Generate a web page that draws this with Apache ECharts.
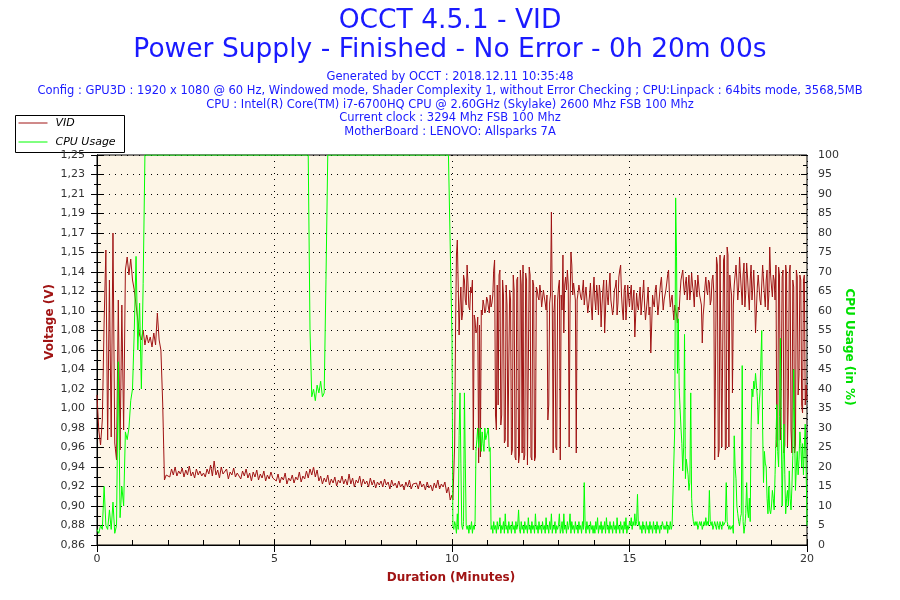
<!DOCTYPE html>
<html lang="en">

<head>
    <meta charset="UTF-8">
    <title>OCCT VID</title>
    <script src="https://cdn.jsdelivr.net/npm/echarts@6/dist/echarts.min.js"></script>
    <style>
        html, body { margin: 0; padding: 0; background: #fff; }
    </style>
</head>

<body>
    <div id="main" style="width: 900px;height:600px;"></div>
    <script>
        // first half (0 .. 10 min): one sample every 0.05 min, one row per minute
        const STEP_A = 0.05;
        // second half (10 .. 20 min): one sample every 0.025 min, one row per half minute
        const STEP_B = 0.025;
        const START_B = 10;

        // VID in volts
        const vidA = [
            1.010, 0.975, 0.960, 0.985, 1.082, 1.155, 0.965, 1.125, 0.968, 1.172, 0.962, 0.945, 1.105, 0.955, 1.100, 0.975, 1.135, 1.148, 1.130, 1.146,
            1.125, 1.115, 1.100, 1.085, 1.070, 1.065, 1.075, 1.060, 1.070, 1.062, 1.068, 1.058, 1.072, 1.060, 1.092, 1.065, 1.055, 1.002, 0.925, 0.930,
            0.932, 0.928, 0.936, 0.930, 0.938, 0.929, 0.934, 0.931, 0.937, 0.928, 0.935, 0.930, 0.939, 0.929, 0.933, 0.927, 0.936, 0.930, 0.934, 0.929,
            0.932, 0.928, 0.936, 0.931, 0.940, 0.929, 0.944, 0.930, 0.935, 0.927, 0.938, 0.931, 0.929, 0.936, 0.926, 0.933, 0.930, 0.937, 0.928, 0.932,
            0.931, 0.926, 0.934, 0.929, 0.936, 0.927, 0.932, 0.924, 0.933, 0.928, 0.935, 0.925, 0.931, 0.927, 0.934, 0.924, 0.930, 0.926, 0.933, 0.927,
            0.929, 0.924, 0.931, 0.922, 0.928, 0.925, 0.932, 0.921, 0.927, 0.924, 0.930, 0.922, 0.928, 0.925, 0.933, 0.923, 0.929, 0.926, 0.934, 0.927,
            0.936, 0.930, 0.938, 0.928, 0.935, 0.924, 0.929, 0.921, 0.927, 0.923, 0.930, 0.920, 0.926, 0.922, 0.928, 0.919, 0.925, 0.922, 0.929, 0.921,
            0.926, 0.920, 0.931, 0.921, 0.927, 0.918, 0.925, 0.922, 0.929, 0.919, 0.926, 0.921, 0.924, 0.918, 0.927, 0.920, 0.925, 0.917, 0.923, 0.920,
            0.924, 0.918, 0.926, 0.920, 0.923, 0.916, 0.925, 0.919, 0.922, 0.917, 0.924, 0.918, 0.921, 0.915, 0.923, 0.918, 0.925, 0.916, 0.921, 0.919,
            0.922, 0.916, 0.924, 0.918, 0.921, 0.915, 0.923, 0.917, 0.920, 0.914, 0.922, 0.917, 0.925, 0.916, 0.921, 0.918, 0.923, 0.912, 0.918, 0.905
        ];
        const vidB = [
            0.910, 0.905, 0.932, 0.960, 1.075, 1.150, 1.165, 1.120, 1.070, 1.100, 1.118, 1.085, 1.092, 1.130, 1.125, 1.105, 1.100, 1.140, 1.122, 1.098,
            1.095, 1.118, 1.112, 1.125, 0.955, 1.090, 1.085, 1.072, 1.075, 1.088, 0.942, 1.080, 0.948, 1.095, 1.090, 1.105, 1.100, 1.092, 1.095, 1.108,
            1.105, 1.098, 1.092, 1.110, 1.098, 1.102, 1.110, 1.135, 1.145, 0.990, 0.975, 1.120, 1.000, 1.130, 1.135, 0.980, 0.990, 1.125, 1.110, 0.962,
            0.965, 1.120, 1.100, 0.958, 1.040, 1.115, 1.105, 0.950, 0.955, 1.130, 1.115, 0.948, 0.945, 1.125, 1.128, 0.942, 0.950, 1.135, 1.120, 0.952,
            1.140, 0.945, 0.950, 1.132, 1.125, 0.940, 0.942, 1.138, 1.130, 0.948, 0.945, 1.125, 1.120, 0.944, 0.948, 1.118, 1.115, 1.108, 1.105, 1.120,
            1.112, 1.098, 1.100, 1.115, 1.108, 1.102, 1.095, 1.110, 0.985, 1.000, 1.102, 1.110, 1.193, 1.100, 0.952, 1.095, 1.110, 0.958, 0.955, 1.105,
            1.118, 1.125, 0.945, 1.110, 1.095, 1.150, 1.072, 1.120, 1.128, 1.115, 1.135, 1.120, 0.958, 1.100, 1.153, 1.140, 1.110, 1.122, 1.120, 1.105,
            0.952, 1.105, 1.112, 1.120, 1.120, 1.108, 1.105, 1.115, 1.125, 1.100, 1.110, 1.118, 1.118, 1.092, 1.100, 1.110, 1.122, 1.098, 1.085, 1.112,
            1.128, 1.105, 1.095, 1.120, 1.110, 1.090, 1.120, 1.112, 1.078, 1.100, 1.115, 1.125, 1.072, 1.095, 1.125, 1.108, 1.100, 1.118, 1.132, 1.105,
            1.105, 1.090, 1.098, 1.115, 1.118, 1.125, 1.090, 1.102, 1.128, 1.135, 1.140, 1.110, 1.095, 1.085, 1.115, 1.120, 1.085, 1.100, 1.120, 1.108,
            1.098, 1.112, 1.120, 1.095, 1.105, 1.115, 1.068, 1.090, 1.112, 1.100, 1.095, 1.108, 1.118, 1.090, 1.102, 1.112, 1.125, 1.100, 1.085, 1.095,
            1.105, 1.118, 1.090, 1.098, 1.052, 1.080, 1.110, 1.102, 1.098, 1.115, 1.120, 1.105, 1.090, 1.100, 1.112, 1.122, 1.128, 1.110, 1.095, 1.105,
            1.105, 1.115, 1.122, 1.130, 1.135, 1.110, 1.098, 1.105, 1.110, 1.095, 1.085, 1.100, 1.100, 1.090, 1.082, 1.098, 1.095, 1.112, 1.125, 1.130,
            1.135, 1.120, 1.110, 1.122, 1.128, 1.105, 1.118, 1.130, 1.105, 1.115, 1.132, 1.120, 1.112, 1.098, 1.125, 1.118, 1.108, 1.130, 1.120, 1.110,
            1.112, 1.100, 1.062, 1.090, 1.100, 1.118, 1.128, 1.115, 1.110, 1.125, 1.122, 1.100, 1.105, 1.125, 1.130, 1.112, 0.945, 0.943, 1.148, 1.140,
            0.948, 0.955, 1.150, 1.148, 0.958, 0.960, 1.145, 1.150, 0.955, 0.958, 1.158, 1.150, 0.958, 1.130, 1.118, 1.110, 1.012, 1.100, 1.120, 1.130,
            1.140, 1.125, 1.105, 1.118, 1.148, 1.130, 1.115, 1.100, 1.130, 1.142, 1.098, 1.112, 1.142, 1.128, 1.110, 1.095, 1.125, 1.140, 1.105, 1.118,
            1.135, 1.110, 1.072, 1.095, 1.118, 1.130, 1.128, 1.105, 1.100, 1.120, 1.140, 1.125, 1.110, 1.098, 1.125, 1.135, 1.095, 1.110, 1.158, 1.130,
            1.118, 1.108, 1.130, 1.125, 1.105, 1.140, 0.958, 0.965, 1.138, 1.130, 0.965, 1.020, 1.128, 1.135, 0.952, 0.960, 1.140, 1.130, 0.958, 1.010,
            1.132, 1.140, 0.975, 0.952, 1.125, 1.118, 0.952, 0.960, 1.135, 1.128, 1.010, 1.030, 1.130, 1.125, 1.000, 0.992, 1.125, 1.130, 1.000, 1.020,
            1.005
        ];

        // CPU usage in %
        const cpuA = [
            4, 3, 5, 4, 15, 5, 4, 9, 4, 11, 3, 5, 47, 7, 15, 10, 29, 27, 30, 37,
            40, 55, 74, 50, 62, 40, 67, 100, 100, 100, 100, 100, 100, 100, 100, 100, 100, 100, 100, 100,
            100, 100, 100, 100, 100, 100, 100, 100, 100, 100, 100, 100, 100, 100, 100, 100, 100, 100, 100, 100,
            100, 100, 100, 100, 100, 100, 100, 100, 100, 100, 100, 100, 100, 100, 100, 100, 100, 100, 100, 100,
            100, 100, 100, 100, 100, 100, 100, 100, 100, 100, 100, 100, 100, 100, 100, 100, 100, 100, 100, 100,
            100, 100, 100, 100, 100, 100, 100, 100, 100, 100, 100, 100, 100, 100, 100, 100, 100, 100, 100, 100,
            55, 38, 40, 37, 41, 39, 42, 38, 39, 68, 100, 100, 100, 100, 100, 100, 100, 100, 100, 100,
            100, 100, 100, 100, 100, 100, 100, 100, 100, 100, 100, 100, 100, 100, 100, 100, 100, 100, 100, 100,
            100, 100, 100, 100, 100, 100, 100, 100, 100, 100, 100, 100, 100, 100, 100, 100, 100, 100, 100, 100,
            100, 100, 100, 100, 100, 100, 100, 100, 100, 100, 100, 100, 100, 100, 100, 100, 100, 100, 100, 100
        ];
        const cpuB = [
            53, 5, 4, 6, 5, 3, 8, 4, 28, 39, 21, 5, 4, 6, 39, 21, 5, 4, 5, 3,
            5, 4, 6, 3, 5, 4, 6, 24, 27, 30, 25, 28, 30, 24, 29, 26, 24, 30, 27, 28,
            29, 30, 24, 25, 4, 5, 3, 6, 4, 5, 3, 6, 4, 5, 7, 3, 5, 4, 6, 3,
            8, 4, 5, 3, 6, 4, 5, 3, 6, 4, 5, 3, 6, 4, 5, 9, 4, 3, 6, 4,
            5, 3, 6, 4, 5, 3, 7, 4, 5, 3, 6, 4, 5, 3, 8, 4, 5, 3, 6, 4,
            5, 3, 6, 4, 5, 3, 7, 4, 5, 3, 6, 4, 8, 3, 5, 4, 6, 3, 5, 4,
            5, 8, 3, 4, 6, 3, 8, 4, 5, 3, 6, 4, 5, 8, 3, 6, 4, 5, 3, 6,
            4, 5, 3, 6, 4, 5, 3, 6, 4, 16, 5, 3, 6, 4, 5, 3, 6, 4, 5, 3,
            5, 3, 6, 4, 7, 3, 5, 4, 6, 3, 5, 4, 6, 3, 7, 4, 5, 3, 6, 4,
            5, 3, 6, 4, 5, 3, 7, 4, 5, 3, 6, 4, 5, 3, 6, 4, 7, 3, 5, 4,
            6, 5, 7, 4, 6, 5, 8, 5, 6, 13, 5, 6, 4, 5, 3, 6, 4, 5, 3, 6,
            4, 5, 3, 6, 4, 5, 3, 6, 4, 5, 3, 6, 4, 5, 3, 5, 4, 6, 5, 4,
            5, 4, 6, 3, 5, 4, 6, 4, 5, 5, 5, 30, 89, 74, 44, 58, 40, 35, 30, 26,
            19, 25, 54, 17, 22, 20, 18, 14, 16, 39, 12, 8, 6, 5, 6, 5, 6, 4, 5, 6,
            5, 6, 4, 5, 6, 5, 7, 5, 6, 5, 14, 6, 5, 6, 4, 5, 6, 5, 4, 6,
            5, 4, 6, 5, 4, 6, 5, 5, 6, 16, 6, 5, 4, 5, 4, 4, 5, 3, 28, 20,
            17, 10, 8, 6, 5, 7, 8, 46, 6, 3, 5, 8, 16, 9, 7, 12, 6, 30, 40, 38,
            42, 40, 44, 41, 38, 31, 36, 39, 39, 55, 30, 16, 24, 21, 20, 12, 8, 15, 9, 8,
            10, 14, 12, 9, 18, 27, 36, 24, 20, 33, 53, 30, 10, 22, 31, 18, 8, 12, 14, 10,
            19, 12, 9, 15, 23, 45, 30, 14, 20, 24, 18, 22, 29, 26, 20, 26, 18, 25, 31, 20,
            5
        ];

        // left axis tick labels, as printed by OCCT
        const voltLabels = ['0,86', '0,88', '0,90', '0,92', '0,94', '0,96', '0,98', '1,00', '1,02', '1,04', '1,06',
            '1,08', '1,10', '1,12', '1,14', '1,15', '1,17', '1,19', '1,21', '1,23', '1,25'];
        const VOLT_MIN = 0.86, VOLT_MAX = 1.25;

        const titleLines = ['OCCT 4.5.1 - VID', 'Power Supply - Finished - No Error - 0h 20m 00s'];
        const infoLines = [
            'Generated by OCCT : 2018.12.11 10:35:48',
            'Config : GPU3D : 1920 x 1080 @ 60 Hz, Windowed mode, Shader Complexity 1, without Error Checking ; CPU:Linpack : 64bits mode, 3568,5MB',
            'CPU : Intel(R) Core(TM) i7-6700HQ CPU @ 2.60GHz (Skylake) 2600 Mhz FSB 100 Mhz',
            'Current clock : 3294 Mhz FSB 100 Mhz',
            'MotherBoard : LENOVO: Allsparks 7A'
        ];
        const seriesNames = ['VID', 'CPU Usage'];

        const RED = '#a01414';
        const GREEN = '#00ff00';
        const BLUE = '#1a1aff';
        const FONT = 'DejaVu Sans';

        // two sampling rates -> [minute, value] pairs
        function toPoints(a, b) {
            return a.map((v, i) => [i * STEP_A, v])
                .concat(b.map((v, i) => [START_B + i * STEP_B, v]));
        }

        const chart = echarts.init(document.getElementById('main'));

        const dots = { type: [1, 5], color: '#000', width: 1 };
        const black = { color: '#000', width: 1 };

        // title + info lines as plain centred texts
        let texts = [];
        titleLines.forEach((t, i) => {
            texts.push({
                type: 'text', x: 450, y: 21 + i * 29, z: 10,
                style: { text: t, fill: BLUE, font: '26.5px "DejaVu Sans"', align: 'center', verticalAlign: 'middle' }
            });
        });
        infoLines.forEach((t, i) => {
            texts.push({
                type: 'text', x: 450, y: 77 + i * 13.8, z: 10,
                style: { text: t, fill: BLUE, font: '11.5px "DejaVu Sans"', align: 'center', verticalAlign: 'middle' }
            });
        });

        // legend box drawn like OCCT's
        const legendBox = {
            type: 'group', left: 15, top: 115, z: 100,
            children: [
                { type: 'rect', shape: { x: 0, y: 0, width: 109, height: 37 }, style: { fill: '#fff', stroke: '#000', lineWidth: 1 } },
                { type: 'line', shape: { x1: 3, y1: 7.5, x2: 32, y2: 7.5 }, style: { stroke: RED, lineWidth: 1 } },
                { type: 'line', shape: { x1: 3, y1: 26.5, x2: 32, y2: 26.5 }, style: { stroke: GREEN, lineWidth: 1 } },
                { type: 'text', x: 40, y: 8, style: { text: seriesNames[0], fill: '#000', font: 'italic 11px "DejaVu Sans"', verticalAlign: 'middle' } },
                { type: 'text', x: 40, y: 26.5, style: { text: seriesNames[1], fill: '#000', font: 'italic 11px "DejaVu Sans"', verticalAlign: 'middle' } }
            ]
        };

        let option = {
            animation: false,
            backgroundColor: '#fff',
            textStyle: { fontFamily: FONT },
            grid: {
                left: 97, right: 93, top: 155, bottom: 55,
                show: true,
                backgroundColor: '#fdf5e6',
                borderColor: '#000',
                borderWidth: 1
            },
            xAxis: [
                {
                    type: 'value',
                    min: 0, max: 20, interval: 5,
                    axisLine: { lineStyle: black },
                    axisTick: { show: true, length: 7, lineStyle: black },
                    splitLine: { show: true, lineStyle: dots },
                    axisLabel: { color: '#333', fontSize: 11, margin: 9 }
                },
                {
                    // inner half of the ticks (OCCT ticks cross the axis)
                    type: 'value', position: 'bottom',
                    min: 0, max: 20, interval: 5,
                    axisLine: { show: false },
                    axisTick: { show: true, inside: true, length: 5, lineStyle: black },
                    minorTick: { show: true, splitNumber: 5, length: 5, lineStyle: black },
                    splitLine: { show: false },
                    axisLabel: { show: false }
                }
            ],
            yAxis: [
                {
                    // left axis: 20 equal steps labelled with OCCT's voltage text
                    type: 'value',
                    position: 'left',
                    min: 0, max: 20, interval: 1,
                    axisLine: { show: true, lineStyle: black },
                    axisTick: { show: true, length: 6, lineStyle: black },
                    minorTick: { show: true, splitNumber: 2, length: 3, lineStyle: black },
                    splitLine: { show: true, lineStyle: dots },
                    axisLabel: {
                        color: '#333', fontSize: 11, margin: 12,
                        formatter: (v) => voltLabels[Math.round(v)]
                    }
                },
                {
                    type: 'value',
                    position: 'right',
                    min: 0, max: 100, interval: 5,
                    axisLine: { show: true, lineStyle: black },
                    axisTick: { show: true, length: 6, lineStyle: black },
                    minorTick: { show: true, splitNumber: 2, length: 3, lineStyle: black },
                    splitLine: { show: false },
                    axisLabel: { color: '#333', fontSize: 11, margin: 11 }
                },
                {
                    // voltage scale used by the VID line
                    type: 'value',
                    position: 'left',
                    min: VOLT_MIN, max: VOLT_MAX,
                    show: false,
                    splitLine: { show: false }
                },
                {
                    type: 'value', position: 'left',
                    min: 0, max: 20, interval: 1,
                    axisLine: { show: false },
                    axisTick: { show: true, inside: true, length: 6, lineStyle: black },
                    minorTick: { show: true, splitNumber: 2, length: 4, lineStyle: black },
                    splitLine: { show: false },
                    axisLabel: { show: false }
                },
                {
                    type: 'value', position: 'right',
                    min: 0, max: 100, interval: 5,
                    axisLine: { show: false },
                    axisTick: { show: true, inside: true, length: 6, lineStyle: black },
                    minorTick: { show: true, splitNumber: 2, length: 4, lineStyle: black },
                    splitLine: { show: false },
                    axisLabel: { show: false }
                }
            ],
            series: [
                {
                    name: seriesNames[0],
                    type: 'line',
                    yAxisIndex: 2,
                    symbol: 'none',
                    lineStyle: { color: RED, width: 1 },
                    itemStyle: { color: RED },
                    data: toPoints(vidA, vidB)
                },
                {
                    name: seriesNames[1],
                    type: 'line',
                    yAxisIndex: 1,
                    symbol: 'none',
                    lineStyle: { color: GREEN, width: 1 },
                    itemStyle: { color: GREEN },
                    data: toPoints(cpuA, cpuB)
                }
            ],
            graphic: texts.concat([
                legendBox,
                {
                    type: 'text', x: 50, y: 322, rotation: Math.PI / 2,
                    style: { text: 'Voltage (V)', fill: RED, font: 'bold 12px "DejaVu Sans"', align: 'center', verticalAlign: 'middle' }
                },
                {
                    type: 'text', x: 849, y: 347, rotation: -Math.PI / 2,
                    style: { text: 'CPU Usage (in %)', fill: '#00e000', font: 'bold 12px "DejaVu Sans"', align: 'center', verticalAlign: 'middle' }
                },
                {
                    type: 'text', x: 451, y: 578,
                    style: { text: 'Duration (Minutes)', fill: RED, font: 'bold 12px "DejaVu Sans"', align: 'center', verticalAlign: 'middle' }
                }
            ])
        };

        chart.setOption(option);
    </script>
</body>

</html>
